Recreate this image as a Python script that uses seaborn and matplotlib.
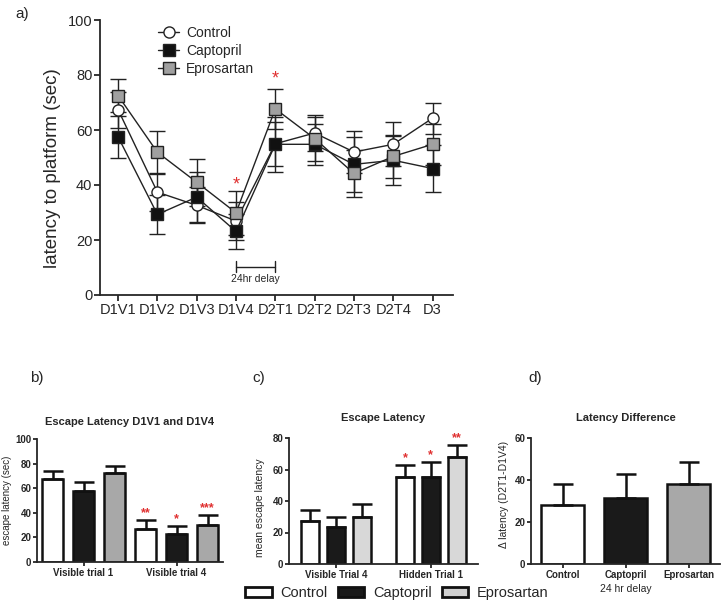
import numpy as np
import pandas as pd
import matplotlib
matplotlib.use('Agg')
import matplotlib.pyplot as plt
import seaborn as sns
from matplotlib.patches import Patch

# ---- data ----
groups = ['Control', 'Captopril', 'Eprosartan']
trials = ['D1V1', 'D1V2', 'D1V3', 'D1V4', 'D2T1', 'D2T2', 'D2T3', 'D2T4', 'D3']

control_mean = [67.4, 37.4, 32.6, 26.9, 55.0, 58.9, 52.0, 54.8, 64.3]
control_sem = [6.5, 7.0, 6.5, 7.0, 8.0, 6.5, 7.6, 8.0, 5.6]
captopril_mean = [57.5, 29.3, 35.6, 23.1, 54.8, 54.8, 47.5, 49.0, 46.0]
captopril_sem = [7.5, 7.0, 9.0, 6.3, 10.0, 7.5, 10.0, 9.0, 8.6]
eprosartan_mean = [72.5, 51.9, 41.0, 29.9, 67.7, 56.9, 44.2, 50.4, 54.8]
eprosartan_sem = [5.9, 7.8, 8.5, 8.0, 7.3, 8.0, 8.4, 7.8, 7.5]

# panel b
b_cats = ['Visible trial 1', 'Visible trial 4']
b_mean = {'Control': [67.5, 27.0], 'Captopril': [57.5, 23.0], 'Eprosartan': [72.5, 30.0]}
b_sem = {'Control': [6.5, 7.0], 'Captopril': [7.5, 6.3], 'Eprosartan': [5.9, 8.0]}
b_stars = {'Control': ['', '**'], 'Captopril': ['', '*'], 'Eprosartan': ['', '***']}

# panel c
c_cats = ['Visible Trial 4', 'Hidden Trial 1']
c_mean = {'Control': [27.0, 55.0], 'Captopril': [23.5, 55.0], 'Eprosartan': [30.0, 68.0]}
c_sem = {'Control': [7.0, 8.0], 'Captopril': [6.3, 10.0], 'Eprosartan': [8.0, 7.3]}
c_stars = {'Control': ['', '*'], 'Captopril': ['', '*'], 'Eprosartan': ['', '**']}

# panel d
d_mean = [28.0, 31.5, 38.0]
d_sem = [10.0, 11.3, 10.5]

sns.set_style('ticks')
plt.rcParams['font.family'] = ['Liberation Sans', 'DejaVu Sans']
plt.rcParams['axes.linewidth'] = 1.3

fig = plt.figure(figsize=(7.24, 6.01), dpi=100)
W, H = 724, 601
def box(l, t, r, b):
    return [l / W, 1 - b / H, (r - l) / W, (b - t) / H]

ax_a = fig.add_axes(box(100, 20, 453, 295))
ax_b = fig.add_axes(box(37, 439, 223, 562))
ax_c = fig.add_axes(box(289, 438, 478, 564))
ax_d = fig.add_axes(box(531, 438, 720, 564))

# ---- panel a ----
means = [control_mean, captopril_mean, eprosartan_mean]
sems = [control_sem, captopril_sem, eprosartan_sem]
markers = ['o', 's', 's']
faces = ['white', '#111111', '#a0a0a0']
for g, m, s, mk, fc in zip(groups, means, sems, markers, faces):
    df = pd.DataFrame({'trial': trials, 'latency': m})
    ax_a.errorbar(trials, m, yerr=s, fmt='none', ecolor='#222222', elinewidth=1.0,
                  capsize=6, capthick=1.0, zorder=2)
    sns.lineplot(data=df, x='trial', y='latency', ax=ax_a, color='#222222', lw=1.0,
                 marker=mk, markersize=8, markerfacecolor=fc, markeredgecolor='#222222',
                 markeredgewidth=1.0, label=g, sort=False, zorder=3)

ax_a.set_ylim(0, 100)
ax_a.set_xlim(-0.46, 8.52)
ax_a.set_yticks([0, 20, 40, 60, 80, 100])
ax_a.set_xlabel('')
ax_a.set_ylabel('latency to platform (sec)', fontsize=13.5)
ax_a.yaxis.set_label_coords(-0.11, 0.46)
ax_a.tick_params(labelsize=10.5, width=1.3, length=4, pad=1.5)
sns.despine(ax=ax_a)
ax_a.legend(loc='upper left', bbox_to_anchor=(0.13, 1.025), frameon=False, fontsize=10,
            handlelength=1.5, labelspacing=0.3, handletextpad=0.5)
ax_a.text(3, 40, '*', color='#e03030', fontsize=13, ha='center', va='center')
ax_a.text(4, 78.5, '*', color='#e03030', fontsize=13, ha='center', va='center')
ax_a.plot([3, 4], [10.3, 10.3], color='#222222', lw=1.0)
ax_a.plot([3, 3], [8.3, 12.3], color='#222222', lw=1.0)
ax_a.plot([4, 4], [8.3, 12.3], color='#222222', lw=1.0)
ax_a.text(3.5, 6.0, '24hr delay', fontsize=7.5, ha='center', va='center')

# ---- bar panel helper ----
def bar_panel(ax, cats, mean, sem, stars, palette, ylim, yticks, width, gap):
    rows = []
    for g in groups:
        for c, v in zip(cats, mean[g]):
            rows.append({'cat': c, 'group': g, 'val': v})
    df = pd.DataFrame(rows)
    sns.barplot(data=df, x='cat', y='val', hue='group', hue_order=groups, palette=palette,
                width=width, gap=gap, edgecolor='#111111', linewidth=1.8, errorbar=None,
                legend=False, ax=ax, saturation=1)
    for cont, g in zip(ax.containers, groups):
        for bar, e, st in zip(cont, sem[g], stars[g]):
            x = bar.get_x() + bar.get_width() / 2
            h = bar.get_height()
            ax.errorbar([x], [h], yerr=[[0], [e]], fmt='none', ecolor='#111111',
                        elinewidth=1.8, capsize=7, capthick=1.8, zorder=1)
            if st:
                ax.text(x, h + e + 0.5, st, color='#e03030', fontsize=9, ha='center',
                        va='bottom', fontweight='bold')
    ax.set_ylim(*ylim)
    ax.set_yticks(yticks)
    ax.set_xlim(-0.5, 1.5)
    ax.set_xlabel('')
    ax.tick_params(labelsize=7, width=1.3, length=3, pad=1)
    for lab in ax.get_xticklabels() + ax.get_yticklabels():
        lab.set_fontweight('bold')
    sns.despine(ax=ax)

bar_panel(ax_b, b_cats, b_mean, b_sem, b_stars,
          ['white', '#1a1a1a', '#a8a8a8'], (0, 100), [0, 20, 40, 60, 80, 100], 1.0, 0.32)
ax_b.set_ylabel('escape latency (sec)', fontsize=7)
ax_b.yaxis.set_label_coords(-0.135, 0.5)
ax_b.set_title('Escape Latency D1V1 and D1V4', fontsize=8, fontweight='bold', pad=10)

bar_panel(ax_c, c_cats, c_mean, c_sem, c_stars,
          ['white', '#1a1a1a', '#d8d8d8'], (0, 80), [0, 20, 40, 60, 80], 0.82, 0.3)
ax_c.set_ylabel('mean escape latency', fontsize=7.5)
ax_c.yaxis.set_label_coords(-0.125, 0.45)
ax_c.set_title('Escape Latency', fontsize=8, fontweight='bold', pad=12)

# ---- panel d ----
df_d = pd.DataFrame({'group': groups, 'val': d_mean})
sns.barplot(data=df_d, x='group', y='val', hue='group', palette=['white', '#1a1a1a', '#a8a8a8'],
            width=0.68, edgecolor='#111111', linewidth=1.8, errorbar=None, legend=False,
            ax=ax_d, saturation=1)
for bar, e in zip(ax_d.patches, d_sem):
    x = bar.get_x() + bar.get_width() / 2
    h = bar.get_height()
    ax_d.errorbar([x], [h], yerr=[[0], [e]], fmt='none', ecolor='#111111',
                  elinewidth=1.8, capsize=7, capthick=1.8, zorder=1)
ax_d.set_ylim(0, 60)
ax_d.set_yticks([0, 20, 40, 60])
ax_d.set_xlim(-0.5, 2.5)
ax_d.tick_params(labelsize=7, width=1.3, length=3, pad=1)
for lab in ax_d.get_xticklabels() + ax_d.get_yticklabels():
    lab.set_fontweight('bold')
ax_d.set_xlabel('24 hr delay', fontsize=7.5, labelpad=3)
ax_d.set_ylabel('\u0394 latency (D2T1-D1V4)', fontsize=7.5)
ax_d.yaxis.set_label_coords(-0.115, 0.55)
ax_d.set_title('Latency Difference', fontsize=8, fontweight='bold', pad=12)
sns.despine(ax=ax_d)

# panel letters
fig.text(15 / W, 1 - 14 / H, 'a)', fontsize=11, va='center')
fig.text(30 / W, 1 - 378 / H, 'b)', fontsize=11, va='center')
fig.text(252 / W, 1 - 378 / H, 'c)', fontsize=11, va='center')
fig.text(528 / W, 1 - 378 / H, 'd)', fontsize=11, va='center')

# shared legend
handles = [Patch(facecolor=c, edgecolor='#111111', linewidth=2) for c in ['white', '#1a1a1a', '#d0d0d0']]
fig.legend(handles, groups, loc='center', bbox_to_anchor=(397 / W, 1 - 593 / H), ncol=3,
           frameon=False, fontsize=10.5, handlelength=1.8, handleheight=0.7,
           columnspacing=0.7, handletextpad=0.6)

fig.savefig('out.png', dpi=100)
